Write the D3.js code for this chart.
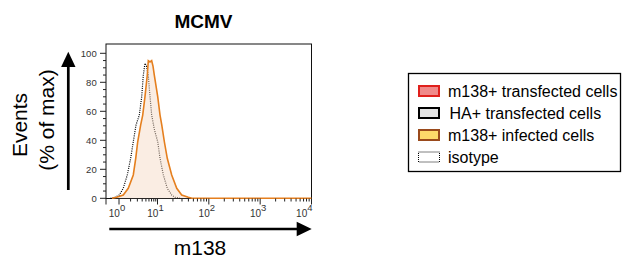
<!DOCTYPE html>
<html>
<head>
<meta charset="utf-8">
<script src="https://cdn.jsdelivr.net/npm/d3@7"></script>
<style>
  body { margin: 0; background: #fff; }
  svg { display: block; font-family: "Liberation Sans", Arial, sans-serif; }
</style>
</head>
<body>
<script>
// histogram data: m138 intensity vs events (% of max)
var infectedX = [0.66, 0.87, 1.29, 1.74, 2.35, 2.72, 3.06, 3.66, 4.13, 4.73, 5.43, 5.77, 6.38, 7.06, 7.64, 8.26, 10.1, 11.2, 12.1, 13.6, 15.5, 18.9, 23.7, 29.6, 39.8, 47, 10000];
var infectedY = [0, 0.7, 2.3, 6.9, 16.1, 27.6, 39.0, 50.6, 57.4, 70.1, 85.0, 94.9, 94.0, 94.9, 91.2, 85.0, 70.1, 57.4, 50.6, 39.0, 27.6, 16.1, 6.9, 2.3, 0.7, 0, 0];

var isotypeX = [0.6, 0.79, 1.02, 1.29, 1.64, 2.01, 2.35, 2.77, 3.37, 3.89, 4.28, 4.73, 5.18, 5.77, 6.12, 7.06, 8.36, 10.1, 11.2, 13.0, 15.5, 18.9, 21.9, 27.5];
var isotypeY = [0, 0.7, 2.3, 6.9, 16.1, 27.6, 39.0, 50.6, 57.4, 70.1, 85.0, 93.1, 91.2, 85.0, 75.9, 57.4, 47.0, 39.0, 27.6, 16.1, 6.9, 2.3, 0.7, 0];

var yTicks = [0, 20, 40, 60, 80, 100];
var xDecades = [0, 1, 2, 3, 4];

var legendLabels = ["m138+ transfected cells", "HA+ transfected cells", "m138+ infected cells", "isotype"];
var legendFill = ["#f08a8a", "#e4e4e4", "#fdd96a", "none"];
var legendStroke = ["#e0201c", "#000", "#9a4a1c", "#000"];

var width = 622, height = 259;
var frame = {left: 106, right: 311.5, top: 44, bottom: 198.5};

var svg = d3.select("body").append("svg")
  .attr("width", width)
  .attr("height", height);

// piecewise log scale (first decade compressed like the flow axis)
var x = d3.scaleLog()
  .domain([1, 10, 10000])
  .range([119, 157.5, 311.5]);

var y = d3.scaleLinear()
  .domain([0, 100])
  .range([198.3, 53.3]);

// title
svg.append("text")
  .attr("x", 203.5).attr("y", 28)
  .attr("text-anchor", "middle")
  .style("font-weight", "bold")
  .style("font-size", "19px")
  .text("MCMV");

// frame
svg.append("rect")
  .attr("x", frame.left).attr("y", frame.top)
  .attr("width", frame.right - frame.left)
  .attr("height", frame.bottom - frame.top)
  .attr("fill", "none")
  .attr("stroke", "#111")
  .attr("stroke-width", 1);

var isoData = isotypeX.map(function(d, i){ return [d, isotypeY[i]]; });
var infData = infectedX.map(function(d, i){ return [d, infectedY[i]]; });

var line = d3.line()
  .x(function(d){ return x(d[0]); })
  .y(function(d){ return y(d[1]); });

var area = d3.area()
  .x(function(d){ return x(d[0]); })
  .y0(y(0))
  .y1(function(d){ return y(d[1]); });

// isotype (dotted)
svg.append("path")
  .datum(isoData)
  .attr("d", line)
  .attr("fill", "none")
  .attr("stroke", "#000")
  .attr("stroke-width", 1.2)
  .attr("stroke-dasharray", "1,1.2");

svg.append("path")
  .datum(infData)
  .attr("d", area)
  .attr("fill", "rgb(244,214,192)")
  .attr("fill-opacity", 0.45);

svg.append("path")
  .datum(infData)
  .attr("d", line)
  .attr("fill", "none")
  .attr("stroke", "#e57f1e")
  .attr("stroke-width", 1.6);

// y axis ticks
var yMinor = d3.range(0, 101, 5);
svg.selectAll(".ytick")
  .data(yMinor)
  .enter().append("line")
  .attr("x1", function(d){ return d % 20 === 0 ? frame.left - 6 : frame.left - 3; })
  .attr("x2", frame.left)
  .attr("y1", function(d){ return y(d); })
  .attr("y2", function(d){ return y(d); })
  .attr("stroke", "#222")
  .attr("stroke-width", 1);

svg.selectAll(".ylab")
  .data(yTicks)
  .enter().append("text")
  .attr("x", 96.7)
  .attr("y", function(d){ return y(d) + 3.3; })
  .attr("text-anchor", "end")
  .style("font-size", "9.5px")
  .style("fill", "#333")
  .text(function(d){ return d; });

// x axis ticks
var xMinor = [];
xDecades.slice(0, 4).forEach(function(p){
  for (var k = 2; k <= 9; k++) xMinor.push(k * Math.pow(10, p));
});
svg.selectAll(".xminor")
  .data(xMinor)
  .enter().append("line")
  .attr("x1", function(d){ return x(d); })
  .attr("x2", function(d){ return x(d); })
  .attr("y1", frame.bottom)
  .attr("y2", frame.bottom + 3)
  .attr("stroke", "#222");

svg.selectAll(".xmajor")
  .data(xDecades)
  .enter().append("line")
  .attr("x1", function(d){ return x(Math.pow(10, d)); })
  .attr("x2", function(d){ return x(Math.pow(10, d)); })
  .attr("y1", frame.bottom)
  .attr("y2", frame.bottom + 6)
  .attr("stroke", "#222");

// left edge tick
svg.append("line")
  .attr("x1", frame.left).attr("x2", frame.left)
  .attr("y1", frame.bottom).attr("y2", frame.bottom + 6)
  .attr("stroke", "#222");

var xl = svg.selectAll(".xlab")
  .data(xDecades)
  .enter().append("text")
  .attr("x", function(d){ return d === 4 ? frame.right + 1 : x(Math.pow(10, d)) - 2; })
  .attr("y", 217)
  .attr("text-anchor", function(d){ return d === 4 ? "end" : "middle"; })
  .style("font-size", "10px")
  .style("fill", "#333");
xl.append("tspan").text("10");
xl.append("tspan")
  .attr("dy", -6)
  .style("font-size", "9.5px")
  .text(function(d){ return d; });

// axis arrows
var arrowW = 2.7;
svg.append("line")
  .attr("x1", 68.3).attr("x2", 68.3)
  .attr("y1", 190).attr("y2", 66)
  .attr("stroke", "#000").attr("stroke-width", arrowW);
svg.append("path")
  .attr("d", "M68.3,51.7 L75.5,67 L61.1,67 Z")
  .attr("fill", "#000");

svg.append("line")
  .attr("x1", 109.3).attr("x2", 298)
  .attr("y1", 229).attr("y2", 229)
  .attr("stroke", "#000").attr("stroke-width", arrowW);
svg.append("path")
  .attr("d", "M311.7,229 L296.7,221.8 L296.7,236.2 Z")
  .attr("fill", "#000");

// axis titles
svg.append("text")
  .attr("transform", "translate(26.5,125) rotate(-90)")
  .attr("text-anchor", "middle")
  .style("font-size", "21px")
  .text("Events");
svg.append("text")
  .attr("transform", "translate(53.5,120) rotate(-90)")
  .attr("text-anchor", "middle")
  .style("font-size", "21px")
  .text("(% of max)");

svg.append("text")
  .attr("x", 200).attr("y", 255)
  .attr("text-anchor", "middle")
  .style("font-size", "21px")
  .text("m138");

// legend
var legend = svg.append("g");
legend.append("rect")
  .attr("x", 408.5).attr("y", 73.5)
  .attr("width", 212).attr("height", 98)
  .attr("fill", "none")
  .attr("stroke", "#000")
  .attr("stroke-width", 1.3);

var rowY = d3.scalePoint()
  .domain(legendLabels)
  .range([91, 157]);

var rows = legend.selectAll(".row")
  .data(legendLabels)
  .enter().append("g")
  .attr("transform", function(d){ return "translate(0," + rowY(d) + ")"; });

rows.append("rect")
  .attr("x", function(d, i){ return i === 3 ? 418.5 : 419; })
  .attr("y", -5)
  .attr("width", function(d, i){ return i === 3 ? 21 : 20; })
  .attr("height", 10)
  .attr("fill", function(d, i){ return legendFill[i]; })
  .attr("stroke", function(d, i){ return legendStroke[i]; })
  .attr("stroke-width", function(d, i){ return i === 3 ? 1 : 2; })
  .attr("stroke-dasharray", function(d, i){ return i === 3 ? "1,1" : null; });

rows.append("text")
  .attr("x", function(d, i){ return i === 1 ? 449.5 : 448; })
  .attr("y", 5.5)
  .style("font-size", "16px")
  .text(function(d){ return d; });
</script>
</body>
</html>
